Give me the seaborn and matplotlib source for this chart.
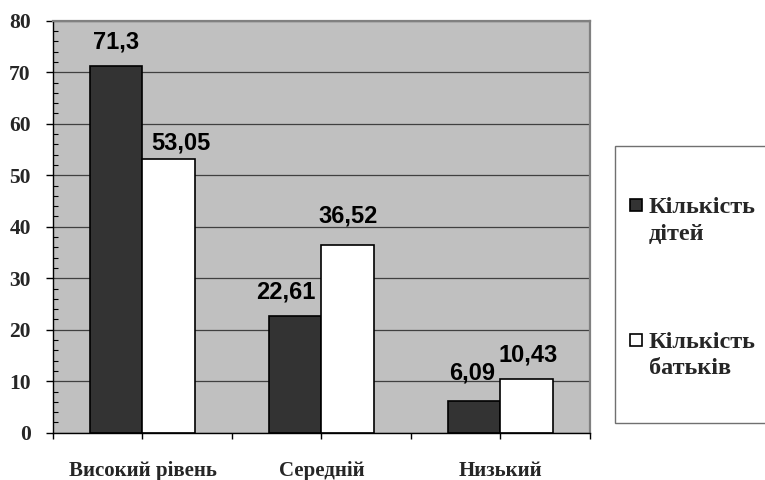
import matplotlib
matplotlib.use("Agg")
import matplotlib.pyplot as plt
import seaborn as sns
import pandas as pd
from matplotlib.patches import Rectangle
from matplotlib.ticker import MultipleLocator

# Data
levels = ["Високий рівень", "Середній", "Низький"]
series = ["Кількість дітей", "Кількість батьків"]
legend_lines = [["Кількість", "дітей"], ["Кількість", "батьків"]]
children = [71.3, 22.61, 6.09]
parents = [53.05, 36.52, 10.43]
y_ticks = [0, 10, 20, 30, 40, 50, 60, 70, 80]

df = pd.DataFrame({
    "level": levels * 2,
    "series": [series[0]] * len(levels) + [series[1]] * len(levels),
    "value": children + parents,
})

# Label nudges (pixels) for each series / level
label_dx = [[0, -9, -1.5], [12, 0, 1.5]]
label_dy = [[17, 18, 22], [10, 22, 17]]

sns.set_theme(style="white")
plt.rcParams["font.family"] = ["Liberation Serif", "DejaVu Serif"]

W, H = 765, 480
fig = plt.figure(figsize=(W / 100, H / 100), dpi=100)
fig.patch.set_facecolor("white")

left, right, top, bottom = 53, 590, 20.7, 432.7
ax = fig.add_axes([left / W, 1 - bottom / H, (right - left) / W, (bottom - top) / H])

colors = ["#333333", "#ffffff"]
sns.barplot(data=df, x="level", y="value", hue="series", order=levels,
            hue_order=series, palette=colors, saturation=1, width=0.592,
            gap=0, edgecolor="black", linewidth=1.2, legend=False, ax=ax)

ax.set_facecolor("#c0c0c0")
ax.set_xlim(-0.5, 2.5)
ax.set_ylim(0, 80)
ax.set_xlabel("")
ax.set_ylabel("")

# Horizontal gridlines
ax.yaxis.grid(True, color="#404040", linewidth=0.9)
ax.xaxis.grid(False)
ax.set_axisbelow(True)

# Y axis
ax.set_yticks(y_ticks)
ax.set_yticklabels([str(t) for t in y_ticks], fontsize=15.5, fontweight="bold")
ax.yaxis.set_minor_locator(MultipleLocator(2))
ax.tick_params(axis="y", which="major", direction="out", length=5, width=1,
               color="black", pad=11, left=True)
ax.tick_params(axis="y", which="minor", direction="in", length=3.5, width=0.8,
               color="black", left=True)

# X axis: ticks at category centres and boundaries
xt = [-0.5, 0, 0.5, 1, 1.5, 2, 2.5]
xl = ["", levels[0], "", levels[1], "", levels[2], ""]
ax.set_xticks(xt)
ax.set_xticklabels(xl, fontsize=15, fontweight="bold")
ax.tick_params(axis="x", which="major", direction="out", length=4.5, width=1,
               color="black", pad=16, bottom=True)

for s in ("left", "bottom"):
    ax.spines[s].set_color("black")
    ax.spines[s].set_linewidth(1.0)
for s in ("top", "right"):
    ax.spines[s].set_color("#808080")
    ax.spines[s].set_linewidth(1.6)

# Value labels
for si, cont in enumerate(ax.containers):
    for li, bar in enumerate(cont):
        v = bar.get_height()
        txt = f"{v:g}".replace(".", ",")
        ax.annotate(txt, (bar.get_x() + bar.get_width() / 2, v),
                    xytext=(label_dx[si][li], label_dy[si][li]),
                    textcoords="offset pixels", ha="center", va="baseline",
                    fontsize=17, fontweight="bold",
                    family=["Liberation Sans", "DejaVu Sans"], color="black")

# Legend box
def fx(px):
    return px / W

def fy(py):
    return 1 - py / H

fig.add_artist(Rectangle((fx(615), fy(423)), fx(775) - fx(615), fy(146) - fy(423),
                         transform=fig.transFigure, facecolor="white",
                         edgecolor="#707070", linewidth=1.0))
entry_base = [213, 348]
for i, lines in enumerate(legend_lines):
    b = entry_base[i]
    fig.add_artist(Rectangle((fx(630), fy(b - 2)), 12 / W, 12 / H,
                             transform=fig.transFigure, facecolor=colors[i],
                             edgecolor="black", linewidth=1.2))
    for j, line in enumerate(lines):
        fig.text(fx(649), fy(b + 26.5 * j), line, fontsize=17.5, fontweight="bold",
                 ha="left", va="baseline")

fig.savefig("out.png", dpi=100)
